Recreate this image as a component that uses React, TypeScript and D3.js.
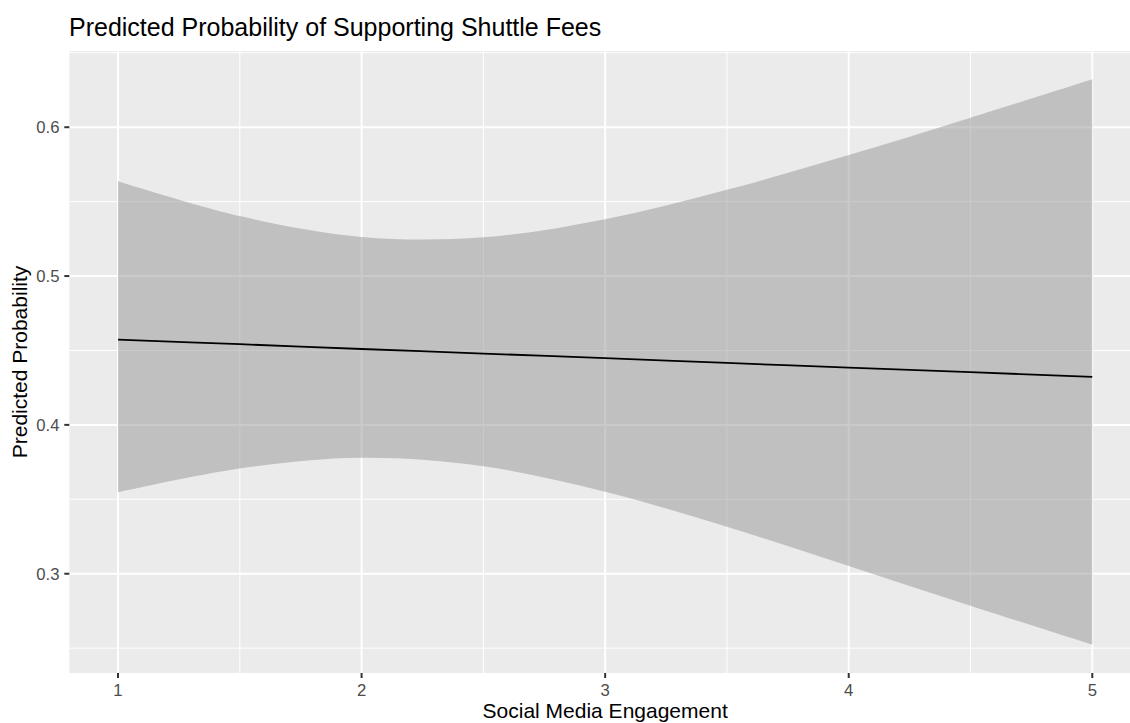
import React from "react";
import * as d3 from "d3";

const engagement = [1, 1.5, 2, 2.5, 3, 3.5, 4, 4.5, 5];
const lowerCI = [0.3547, 0.3707, 0.3779, 0.3722, 0.3551, 0.3315, 0.3052, 0.2785, 0.2523];
const upperCI = [0.5637, 0.5403, 0.5263, 0.526, 0.5382, 0.5579, 0.5813, 0.6064, 0.6322];
const predicted = [0.4573, 0.4542, 0.451, 0.4479, 0.4448, 0.4416, 0.4385, 0.4354, 0.4323];

const xTicks = [1, 2, 3, 4, 5];
const yTicks = [0.3, 0.4, 0.5, 0.6];
const xMinor = [1.5, 2.5, 3.5, 4.5];
const yMinor = [0.25, 0.35, 0.45, 0.55, 0.65];

const titleText = "Predicted Probability of Supporting Shuttle Fees";
const xLabel = "Social Media Engagement";
const yLabel = "Predicted Probability";

const W = 1130;
const H = 723;
const FONT = "'Liberation Sans', Arial, Helvetica, sans-serif";

export default function App() {
  const panel = { left: 69.3, top: 51, right: 1141, bottom: 673 };

  const xExt = d3.extent(engagement) as [number, number];
  const xPad = (xExt[1] - xExt[0]) * 0.05;
  const yMin = d3.min(lowerCI) as number;
  const yMax = d3.max(upperCI) as number;
  const yPad = (yMax - yMin) * 0.05;

  const x = d3.scaleLinear().domain([xExt[0] - xPad, xExt[1] + xPad]).range([panel.left, panel.right]);
  const y = d3.scaleLinear().domain([yMin - yPad, yMax + yPad]).range([panel.bottom, panel.top]);

  const rows = engagement.map((e, i) => ({ e, lo: lowerCI[i], hi: upperCI[i], p: predicted[i] }));

  const area = d3
    .area<any>()
    .x((d) => x(d.e))
    .y0((d) => y(d.lo))
    .y1((d) => y(d.hi))
    .curve(d3.curveCatmullRom.alpha(0.5));
  const line = d3
    .line<any>()
    .x((d) => x(d.e))
    .y((d) => y(d.p))
    .curve(d3.curveCatmullRom.alpha(0.5));

  const yDom = y.domain();
  const xDom = x.domain();

  return (
    <svg width={W} height={H} style={{ position: "absolute", left: 0, top: 0, background: "#fff" }}>
      <defs>
        <clipPath id="pclip">
          <rect x={panel.left} y={panel.top} width={panel.right - panel.left} height={panel.bottom - panel.top} />
        </clipPath>
      </defs>
      <rect x={0} y={0} width={W} height={H} fill="#fff" />
      <text x={69} y={36} fontFamily={FONT} fontSize={25} fill="#000">
        {titleText}
      </text>
      <rect x={panel.left} y={panel.top} width={panel.right - panel.left} height={panel.bottom - panel.top} fill="#EBEBEB" />
      <g clipPath="url(#pclip)">
        {yMinor.filter((v) => v >= yDom[0] && v <= yDom[1]).map((v) => (
          <line key={"ym" + v} x1={panel.left} x2={panel.right} y1={y(v)} y2={y(v)} stroke="#fff" strokeWidth={1} />
        ))}
        {xMinor.filter((v) => v >= xDom[0] && v <= xDom[1]).map((v) => (
          <line key={"xm" + v} y1={panel.top} y2={panel.bottom} x1={x(v)} x2={x(v)} stroke="#fff" strokeWidth={1} />
        ))}
        {yTicks.map((v) => (
          <line key={"yM" + v} x1={panel.left} x2={panel.right} y1={y(v)} y2={y(v)} stroke="#fff" strokeWidth={2} />
        ))}
        {xTicks.map((v) => (
          <line key={"xM" + v} y1={panel.top} y2={panel.bottom} x1={x(v)} x2={x(v)} stroke="#fff" strokeWidth={2} />
        ))}
        <path d={area(rows) || ""} fill="#999999" fillOpacity={0.52} />
        <path d={line(rows) || ""} fill="none" stroke="#000" strokeWidth={1.8} />
      </g>
      {yTicks.map((v) => (
        <g key={"yt" + v}>
          <line x1={panel.left - 5} x2={panel.left} y1={y(v)} y2={y(v)} stroke="#333" strokeWidth={2} />
          <text x={59.5} y={y(v)} dy="0.35em" textAnchor="end" fontFamily={FONT} fontSize={16.7} fill="#4D4D4D">
            {v.toFixed(1)}
          </text>
        </g>
      ))}
      {xTicks.map((v) => (
        <g key={"xt" + v}>
          <line y1={panel.bottom} y2={panel.bottom + 5} x1={x(v)} x2={x(v)} stroke="#333" strokeWidth={2} />
          <text x={x(v)} y={696} textAnchor="middle" fontFamily={FONT} fontSize={16.7} fill="#4D4D4D">
            {v}
          </text>
        </g>
      ))}
      <text x={(panel.left + panel.right) / 2} y={718} textAnchor="middle" fontFamily={FONT} fontSize={21} fill="#000">
        {xLabel}
      </text>
      <text
        transform={`translate(27, ${(panel.top + panel.bottom) / 2}) rotate(-90)`}
        textAnchor="middle"
        fontFamily={FONT}
        fontSize={21}
        fill="#000"
      >
        {yLabel}
      </text>
    </svg>
  );
}
